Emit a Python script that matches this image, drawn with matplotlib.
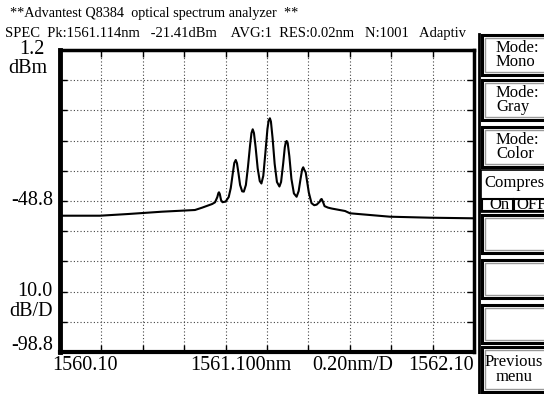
import matplotlib.pyplot as plt
import matplotlib.patches as patches
import numpy as np

# trace (wavelength in nm, level in dBm)
wavelength = [1560.100, 1560.293, 1560.429, 1560.593, 1560.752, 1560.786, 1560.835,
              1560.849, 1560.860, 1560.865, 1560.868, 1560.872, 1560.878, 1560.885, 1560.900,
              1560.915, 1560.925, 1560.935, 1560.942, 1560.949, 1560.955, 1560.962, 1560.970,
              1560.980, 1560.988,
              1560.998, 1561.008, 1561.018, 1561.025, 1561.031, 1561.037, 1561.045, 1561.055,
              1561.065, 1561.073,
              1561.082, 1561.092, 1561.102, 1561.108, 1561.114, 1561.119, 1561.127, 1561.137,
              1561.148, 1561.160,
              1561.168, 1561.178, 1561.186, 1561.191, 1561.195, 1561.200, 1561.208, 1561.218,
              1561.230, 1561.243,
              1561.253, 1561.262, 1561.270, 1561.275, 1561.281, 1561.287, 1561.293, 1561.302,
              1561.315, 1561.328, 1561.340,
              1561.355, 1561.360, 1561.364, 1561.370, 1561.378, 1561.395, 1561.413,
              1561.477, 1561.501, 1561.694, 1561.887, 1562.100]
level = [-53.67, -53.67, -53.11, -52.34, -51.78, -51.02, -49.80,
         -49.23, -47.50, -46.20, -45.92, -46.50, -48.50, -49.20, -49.00,
         -47.50, -44.50, -39.50, -36.20, -35.22, -36.30, -39.50, -43.50,
         -45.60, -45.70,
         -43.50, -37.50, -30.50, -26.30, -25.06, -26.30, -31.00, -38.00,
         -42.20, -43.00,
         -40.50, -33.00, -25.00, -22.20, -21.41, -22.50, -28.00, -36.50,
         -42.50, -44.00,
         -42.50, -36.50, -31.00, -29.30, -28.93, -29.60, -34.00, -41.50,
         -46.30, -47.40,
         -45.50, -41.50, -38.30, -37.64, -38.60, -39.30, -42.00, -46.00,
         -49.50, -50.20, -50.00,
         -49.00, -48.30, -48.14, -49.00, -50.50, -51.00, -51.30,
         -52.11, -52.87, -54.00, -54.33, -54.53]

x_start, x_stop, x_div = 1560.10, 1562.10, 0.20
y_top, y_bottom, y_div = 1.2, -98.8, 10.0

header1 = "**Advantest Q8384  optical spectrum analyzer  **"
header2 = "SPEC  Pk:1561.114nm   -21.41dBm    AVG:1  RES:0.02nm   N:1001   Adaptiv"
buttons = [("Mode:\nMono", 35, 75), ("Mode:\nGray", 80, 120), ("Mode:\nColor", 127, 167),
           ("", 215, 253), ("", 260, 298), ("", 305, 343), ("Previous\nmenu", 347, 392)]

plt.rcParams['font.family'] = ['Liberation Serif', 'DejaVu Serif']

W, H = 544, 394
fig = plt.figure(figsize=(W / 100, H / 100), dpi=100)

# main plotting area
ax = fig.add_axes([60 / W, 1 - 352 / H, 414 / W, 302 / H])
ax.plot(wavelength, level, color="black", linewidth=1.5)
ax.set_xlim(x_start, x_stop)
ax.set_ylim(y_bottom, y_top)
ax.set_xticks(np.linspace(x_start, x_stop, 11))
ax.set_yticks(np.linspace(y_bottom, y_top, 11))
ax.tick_params(direction="in", length=5, width=1, top=True, right=True,
               labelbottom=False, labelleft=False)
ax.grid(True, color="#444444", linestyle=(0, (1, 2)), linewidth=0.8)
for side, lw in [("left", 3.5), ("bottom", 3), ("top", 2.5), ("right", 2.5)]:
    ax.spines[side].set_linewidth(lw)

# overlay in pixel coordinates for the screen texts and the soft keys
ov = fig.add_axes([0, 0, 1, 1])
ov.set_xlim(0, W)
ov.set_ylim(H, 0)
ov.axis("off")

ov.text(10, 13, header1, fontsize=10.3, va="center", ha="left")
ov.text(5, 33, header2, fontsize=10.5, va="center", ha="left")

big = 14.5
ov.text(45, 49, "1.2", fontsize=big, ha="right", va="center")
ov.text(47, 68, "dBm", fontsize=big, ha="right", va="center")
ov.text(53, 200, "-48.8", fontsize=big, ha="right", va="center")
ov.text(52, 291, "10.0", fontsize=big, ha="right", va="center")
ov.text(53, 312, "dB/D", fontsize=big, ha="right", va="center")
ov.text(53, 345, "-98.8", fontsize=big, ha="right", va="center")
ov.text(52, 365, "1560.10", fontsize=big, ha="left", va="center")
ov.text(190, 366, "1561.100nm", fontsize=big, ha="left", va="center")
ov.text(312, 366, "0.20nm/D", fontsize=big, ha="left", va="center")
ov.text(474, 366, "1562.10", fontsize=big, ha="right", va="center")

# soft key panel
ov.plot([479, 479], [34, 394], color="black", linewidth=2)
for label, top, bottom in buttons:
    ov.add_patch(patches.Rectangle((482, top), 70, bottom - top, facecolor="white",
                                   edgecolor="black", linewidth=2.2))
    ov.add_patch(patches.Rectangle((485, top + 3), 70, bottom - top - 6, facecolor="none",
                                   edgecolor="#999999", linewidth=1))
    if label:
        if label.startswith("Prev"):
            ov.text(514, (top + bottom) / 2, label, fontsize=12, ha="center", va="center",
                    linespacing=0.85)
        else:
            ov.text(496, (top + bottom) / 2, label, fontsize=12, ha="left", va="center",
                    linespacing=0.8)

# compress on/off area
ov.add_patch(patches.Rectangle((481, 170), 70, 42, facecolor="white",
                               edgecolor="black", linewidth=1.2))
ov.text(484, 183, "Compress", fontsize=12, ha="left", va="center")
ov.add_patch(patches.Rectangle((482, 199), 31, 12, facecolor="white",
                               edgecolor="black", linewidth=1.5))
ov.add_patch(patches.Rectangle((514, 199), 40, 12, facecolor="white",
                               edgecolor="black", linewidth=1.5))
ov.text(489, 205, "On", fontsize=12, ha="left", va="center")
ov.text(516, 205, "OFF", fontsize=12, ha="left", va="center")

fig.savefig("out.png", dpi=100)
